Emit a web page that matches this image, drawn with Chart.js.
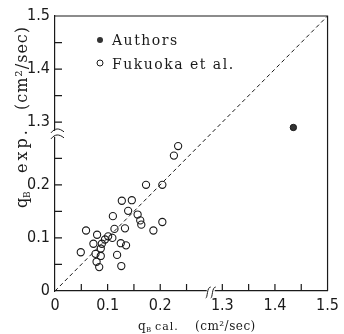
<!DOCTYPE html>
<html>
<head>
<meta charset="utf-8">
<script src="https://cdn.jsdelivr.net/npm/chart.js@4.4.1/dist/chart.umd.min.js"></script>
<style>
  html, body { margin: 0; padding: 0; background: #fff; }
  #wrap { width: 344px; height: 334px; position: relative; }
</style>
</head>
<body>
<div id="wrap"><canvas id="qbChart"></canvas></div>
<script>
// qB cal. vs qB exp. (cm2/sec)
const fukuokaCal = [0.234, 0.226, 0.173, 0.204, 0.127, 0.146, 0.110, 0.139, 0.157, 0.162, 0.164,
                    0.204, 0.187, 0.133, 0.113, 0.059, 0.080, 0.101, 0.109, 0.095, 0.089, 0.073,
                    0.125, 0.135, 0.087, 0.049, 0.077, 0.087, 0.118, 0.079, 0.084, 0.126];
const fukuokaExp = [0.273, 0.255, 0.200, 0.200, 0.170, 0.171, 0.141, 0.151, 0.144, 0.133, 0.125,
                    0.130, 0.114, 0.118, 0.117, 0.114, 0.106, 0.103, 0.100, 0.097, 0.089, 0.089,
                    0.090, 0.086, 0.080, 0.073, 0.070, 0.066, 0.068, 0.055, 0.045, 0.047];
const authorsCal = [1.435];
const authorsExp = [1.29];
const diagonal = [0, 1.5];

const tickValues = [0, 0.05, 0.1, 0.15, 0.2, 0.25, 1.3, 1.35, 1.4, 1.45, 1.5];
const tickLabels = ['0', '', '0.1', '', '0.2', '', '1.3', '', '1.4', '', '1.5'];

// broken axes: values above 1 are pulled down next to 0.25
const BREAK_SHIFT = 0.982;
const BREAK_POS = 0.296;
const toAxis = v => (v > 1 ? v - BREAK_SHIFT : v);
const AXIS_MAX = toAxis(1.5);

const INK = '#1a1a1a';
const tickFont = { family: "'Liberation Sans Narrow', 'DejaVu Sans Condensed', sans-serif", size: 16 };
const textFamily = "'DejaVu Serif', 'Liberation Serif', serif";

const pts = (xs, ys) => xs.map((v, i) => ({ x: toAxis(v), y: toAxis(ys[i]) }));

function axisTicks(scale) {
  scale.ticks = tickValues.map(v => ({ value: toAxis(v) }));
}

// pieces: [text, size, start offset, raise, letter spacing]
function drawPieces(ctx, pieces) {
  pieces.forEach(([t, size, at, raise, sp]) => {
    ctx.font = size + 'px ' + textFamily;
    ctx.letterSpacing = (sp || 0) + 'px';
    ctx.fillText(t, at, -(raise || 0));
  });
}

const decor = {
  id: 'decor',
  afterDraw(chart) {
    const { ctx, chartArea: a, scales: { x, y } } = chart;
    ctx.save();
    ctx.strokeStyle = INK;
    ctx.fillStyle = INK;
    ctx.lineWidth = 1.2;

    // top and right side of the frame
    ctx.beginPath();
    ctx.moveTo(a.left, a.top);
    ctx.lineTo(a.right, a.top);
    ctx.lineTo(a.right, a.bottom);
    ctx.stroke();

    // ticks point into the plot
    ctx.beginPath();
    x.ticks.forEach(t => {
      const p = x.getPixelForValue(t.value);
      if (p > a.left + 2 && p < a.right - 2) { ctx.moveTo(p, a.bottom); ctx.lineTo(p, a.bottom - 7); }
    });
    y.ticks.forEach(t => {
      const p = y.getPixelForValue(t.value);
      if (p > a.top + 2 && p < a.bottom - 2) { ctx.moveTo(a.left, p); ctx.lineTo(a.left + 7, p); }
    });
    ctx.stroke();

    // break marks
    const bx = x.getPixelForValue(BREAK_POS);
    const by = y.getPixelForValue(BREAK_POS);
    ctx.fillStyle = '#fff';
    ctx.fillRect(bx - 4, a.bottom - 2, 8, 4);
    ctx.fillRect(a.left - 2, by - 3, 4, 6);
    ctx.lineWidth = 1;
    [-2.5, 2.5].forEach(d => {
      const cx = bx + d;
      ctx.beginPath();
      ctx.moveTo(cx - 2.5, a.bottom + 7);
      ctx.bezierCurveTo(cx - 0.5, a.bottom + 7, cx - 1.5, a.bottom - 4, cx + 2.5, a.bottom - 4);
      ctx.stroke();
    });
    [-3, 3].forEach(d => {
      const cy = by + d;
      ctx.beginPath();
      ctx.moveTo(a.left - 4, cy + 2);
      ctx.bezierCurveTo(a.left, cy - 3, a.left + 4, cy - 3, a.left + 9, cy + 1);
      ctx.stroke();
    });

    // legend
    const lx = a.left + 45;
    const [auth, fuku] = [chart.data.datasets[1], chart.data.datasets[2]];
    ctx.lineWidth = 1;
    ctx.strokeStyle = INK;
    ctx.fillStyle = auth.backgroundColor;
    ctx.beginPath(); ctx.arc(lx, a.top + 24, 3, 0, Math.PI * 2); ctx.fill();
    ctx.beginPath(); ctx.arc(lx, a.top + 47, 3, 0, Math.PI * 2); ctx.stroke();
    ctx.fillStyle = INK;
    ctx.textBaseline = 'middle';
    ctx.textAlign = 'left';
    ctx.letterSpacing = '1.5px';
    ctx.font = '14px ' + textFamily;
    ctx.fillText(auth.label, lx + 12, a.top + 25);
    ctx.fillText(fuku.label, lx + 12, a.top + 49);

    // axis titles
    ctx.textBaseline = 'alphabetic';
    ctx.save();
    ctx.translate(138, 330);
    drawPieces(ctx, [['q', 12, 0], ['B', 7, 8, -2], ['cal.', 11, 17, 0, 1], ['(cm²/sec)', 12, 57, 0, 0.5]]);
    ctx.restore();
    ctx.translate(27, 208);
    ctx.rotate(-Math.PI / 2);
    drawPieces(ctx, [['q', 16, 0], ['B', 9, 10, -3], ['exp.', 16, 35, 0, 3], ['(cm²/sec)', 16, 98, 0, 1]]);
    ctx.restore();
  }
};

new Chart(document.getElementById('qbChart'), {
  data: {
    datasets: [
      {
        type: 'line',
        label: 'y = x',
        data: pts(diagonal, diagonal),
        borderColor: INK,
        borderWidth: 1,
        borderDash: [4, 3],
        pointRadius: 0
      },
      {
        type: 'scatter',
        label: 'Authors',
        data: pts(authorsCal, authorsExp),
        pointRadius: 3.2,
        backgroundColor: '#333',
        borderColor: INK,
        borderWidth: 1
      },
      {
        type: 'scatter',
        label: 'Fukuoka et al.',
        data: pts(fukuokaCal, fukuokaExp),
        pointRadius: 3.6,
        backgroundColor: 'rgba(0,0,0,0)',
        borderColor: INK,
        borderWidth: 1.1
      }
    ]
  },
  options: {
    responsive: true,
    maintainAspectRatio: false,
    animation: false,
    layout: { padding: { top: 16, right: 11, left: 0, bottom: 0 } },
    plugins: { legend: { display: false }, tooltip: { enabled: false } },
    scales: {
      x: {
        type: 'linear',
        min: 0,
        max: AXIS_MAX,
        afterBuildTicks: axisTicks,
        afterFit: s => { s.height = 43; },
        grid: { display: false, drawTicks: false },
        border: { display: true, color: INK, width: 1.2 },
        ticks: {
          autoSkip: false,
          maxRotation: 0,
          padding: 5,
          color: INK,
          font: tickFont,
          callback: (v, i) => tickLabels[i]
        }
      },
      y: {
        type: 'linear',
        min: 0,
        max: AXIS_MAX,
        afterBuildTicks: axisTicks,
        afterFit: s => { s.width = 55; },
        grid: { display: false, drawTicks: false },
        border: { display: true, color: INK, width: 1.2 },
        ticks: {
          autoSkip: false,
          padding: 5,
          color: INK,
          font: tickFont,
          callback: (v, i) => tickLabels[i]
        }
      }
    }
  },
  plugins: [decor]
});
</script>
</body>
</html>
